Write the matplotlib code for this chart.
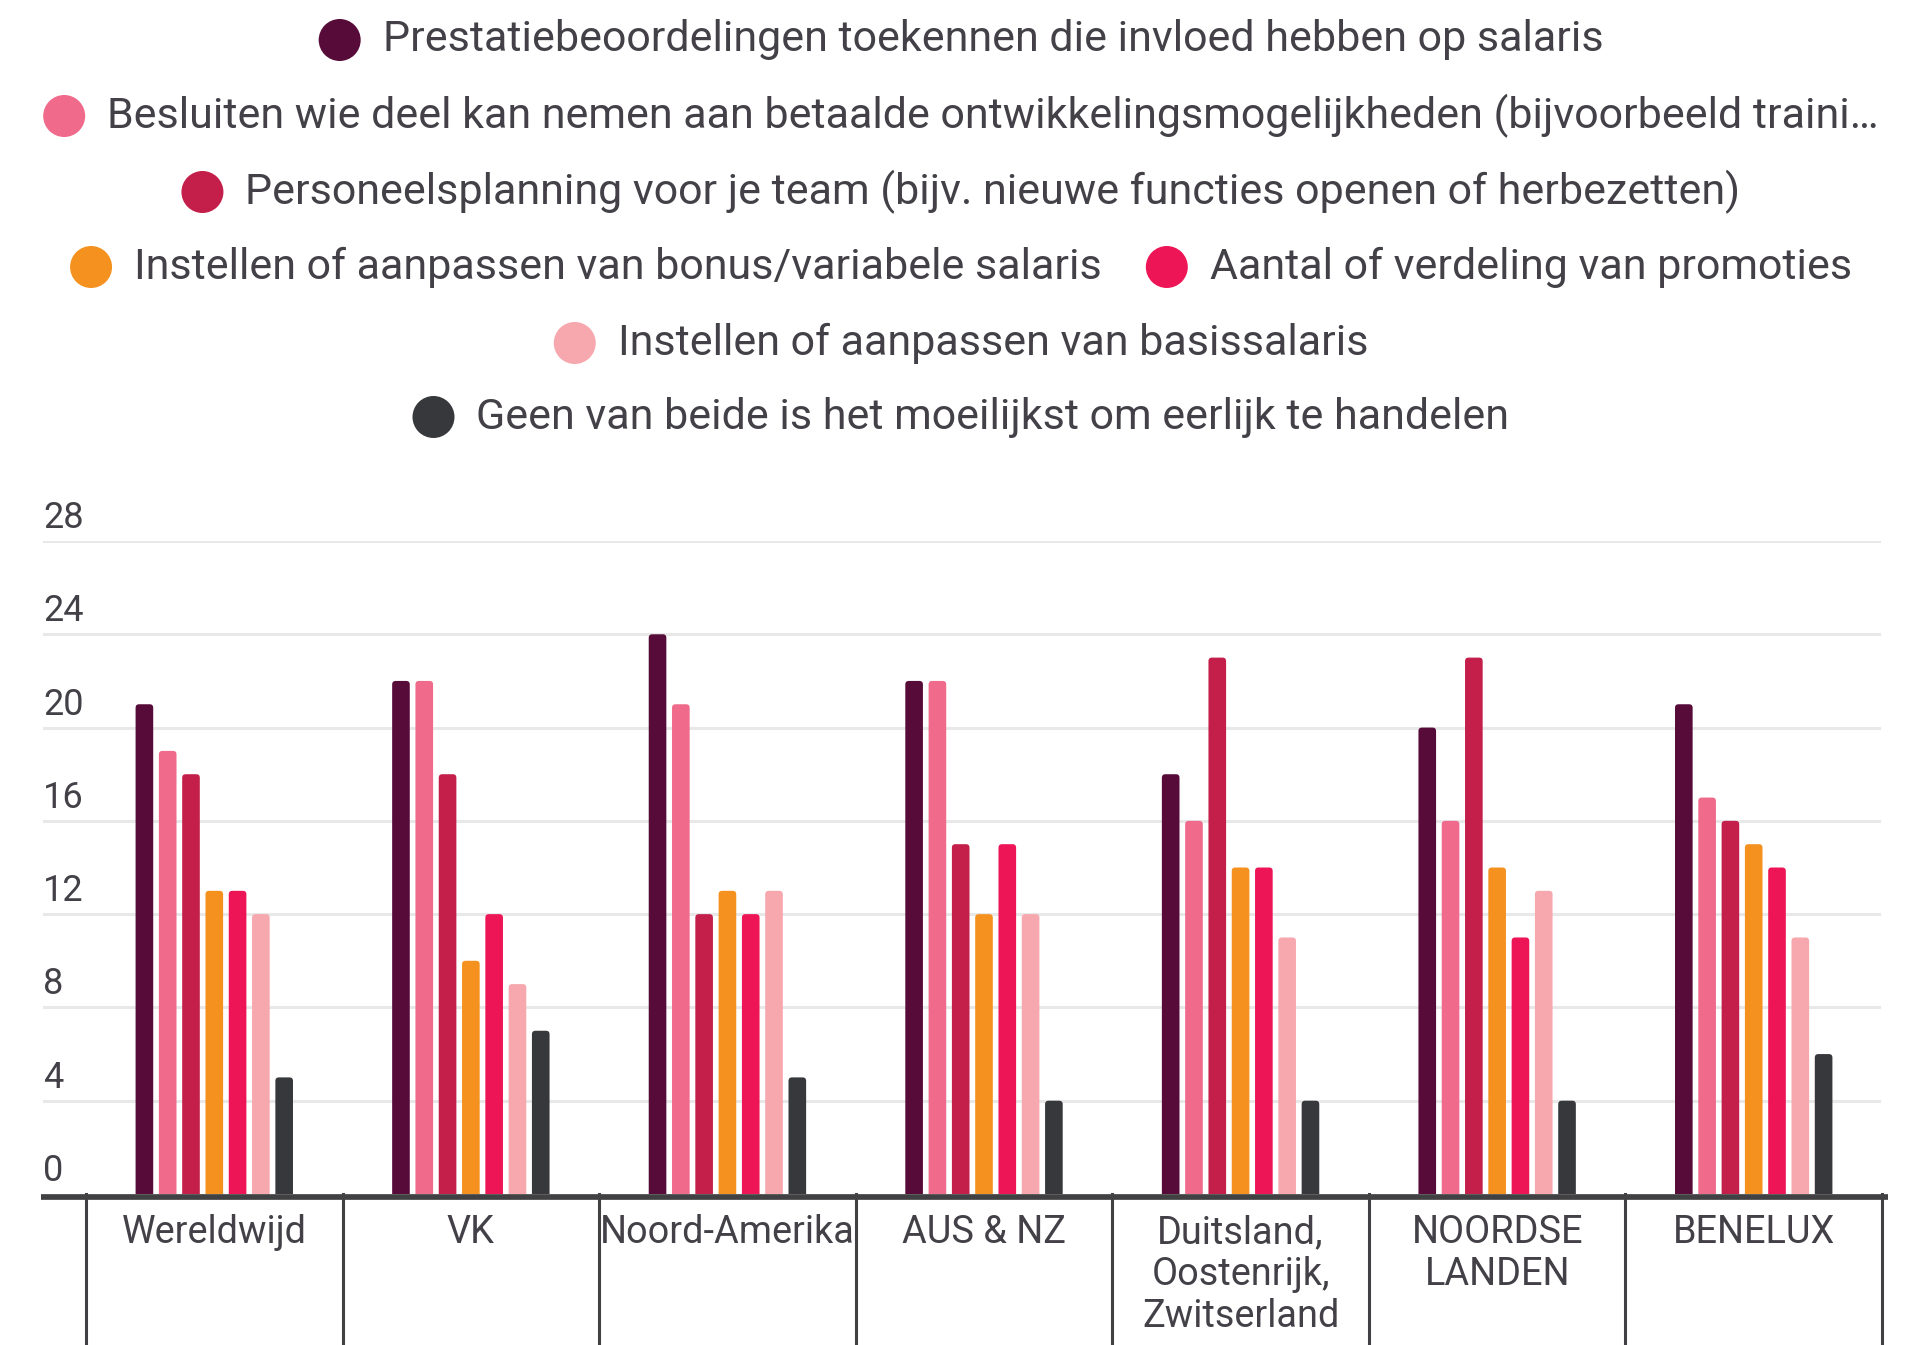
import matplotlib
matplotlib.use("Agg")
import matplotlib.pyplot as plt
from matplotlib.patches import FancyBboxPatch, Ellipse
import matplotlib.transforms as mtransforms

plt.rcParams['font.family'] = ['Roboto', 'DejaVu Sans']

categories = ["Wereldwijd", "VK", "Noord-Amerika", "AUS & NZ",
              "Duitsland,\nOostenrijk,\nZwitserland", "NOORDSE\nLANDEN", "BENELUX"]
series_names = [
    "Prestatiebeoordelingen toekennen die invloed hebben op salaris",
    "Besluiten wie deel kan nemen aan betaalde ontwikkelingsmogelijkheden (bijvoorbeeld traini\u2026",
    "Personeelsplanning voor je team (bijv. nieuwe functies openen of herbezetten)",
    "Instellen of aanpassen van bonus/variabele salaris",
    "Aantal of verdeling van promoties",
    "Instellen of aanpassen van basissalaris",
    "Geen van beide is het moeilijkst om eerlijk te handelen",
]
prestatie = [21, 22, 24, 22, 18, 20, 21]
besluiten = [19, 22, 21, 22, 16, 16, 17]
personeel = [18, 18, 12, 15, 23, 23, 16]
bonus = [13, 10, 13, 12, 14, 14, 15]
promoties = [13, 12, 12, 15, 14, 11, 14]
basis = [12, 9, 13, 12, 11, 13, 11]
geen = [5, 7, 5, 4, 4, 4, 6]
y_ticks = [0, 4, 8, 12, 16, 20, 24, 28]

series_values = [prestatie, besluiten, personeel, bonus, promoties, basis, geen]
colors = ["#570b39", "#f06a8b", "#c31f4a", "#f5921f", "#ee1557", "#f7a8ae", "#37383b"]
legend_rows = [[0], [1], [2], [3, 4], [5], [6]]

TEXT = "#434147"
W, H = 1922, 1345
fig = plt.figure(figsize=(W / 100, H / 100), dpi=100)

ax_left, ax_right = 43, 1882
ax_top, ax_bottom = 541, 1194
ax = fig.add_axes([ax_left / W, 1 - ax_bottom / H, (ax_right - ax_left) / W, (ax_bottom - ax_top) / H])

n = len(categories)
group_px = (ax_right - 86) / n
x_left = -0.5 - (86 - ax_left) / group_px
ax.set_xlim(x_left, n - 0.5)
ax.set_ylim(0, 28)

pitch = 0.0908
bw = 0.0687
px_per_x = (ax_right - ax_left) / (n - 0.5 - x_left)
px_per_y = (ax_bottom - ax_top) / 28
aspect = (1 / px_per_y) / (1 / px_per_x)
r = 3.5 / px_per_x
for j, vals in enumerate(series_values):
    xs = [i + (j - 3) * pitch for i in range(n)]
    bars = ax.bar(xs, vals, width=bw, color=colors[j], alpha=0)
    for rect in bars:
        fb = FancyBboxPatch((rect.get_x(), rect.get_y() - 0.3), rect.get_width(), rect.get_height() + 0.3,
                            boxstyle=f"round,pad=0,rounding_size={r}", mutation_aspect=aspect,
                            facecolor=colors[j], edgecolor='none', zorder=3)
        ax.add_patch(fb)

for s in ax.spines.values():
    s.set_visible(False)
ax.set_xticks([])
ax.set_yticks([])
for t in y_ticks:
    if t > 0:
        ax.axhline(t, xmax=(1879 - ax_left) / (ax_right - ax_left), color="#e8e8e8", lw=2.2, zorder=1)
tr = mtransforms.offset_copy(ax.get_yaxis_transform(), fig=fig, x=0, y=5, units='dots')
for t in y_ticks:
    ax.text(0, t, str(t), transform=tr, ha='left', va='bottom', fontsize=26, color=TEXT, clip_on=False)

axis_tr = mtransforms.offset_copy(ax.transAxes, fig=fig, x=0, y=-2.8, units='dots')
ax.plot([-0.001, (1888 - ax_left) / (ax_right - ax_left)], [0, 0], transform=axis_tr,
        color="#414042", lw=4.1, zorder=5, clip_on=False, solid_capstyle='butt')
sep_tr = ax.get_xaxis_transform()
for i in range(n + 1):
    ax.plot([i - 0.5, i - 0.5], [0, -0.4], transform=sep_tr, color="#414042", lw=2.2, clip_on=False, zorder=4)
lab_tr = mtransforms.offset_copy(ax.get_xaxis_transform(), fig=fig, x=0, y=-20, units='dots')
for i, c in enumerate(categories):
    ax.text(i, 0, c, transform=lab_tr, ha='center', va='top', fontsize=27.3, color=TEXT, linespacing=1.17)

# legend
renderer = fig.canvas.get_renderer()
row_y = [40, 116, 192, 267, 343, 417]
d = 42
gap = 22
item_gap = 44
fs_leg = 31
for ri, row in enumerate(legend_rows):
    texts = []
    widths = []
    for k in row:
        t = fig.text(0, 1 - row_y[ri] / H, series_names[k], fontsize=fs_leg, color=TEXT, va='center', ha='left')
        widths.append(t.get_window_extent(renderer).width)
        texts.append(t)
    total = sum(d + gap + w for w in widths) + item_gap * (len(row) - 1)
    x = (W - total) / 2
    for k, t, w in zip(row, texts, widths):
        e = Ellipse(((x + d / 2) / W, 1 - row_y[ri] / H), d / W, d / H, transform=fig.transFigure,
                    facecolor=colors[k], edgecolor='none')
        fig.add_artist(e)
        t.set_x((x + d + gap) / W)
        x += d + gap + w + item_gap

fig.savefig("out.png", dpi=100, facecolor="white")
